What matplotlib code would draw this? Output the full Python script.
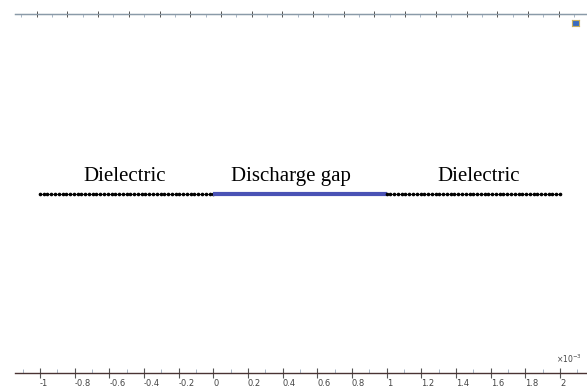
#!/usr/bin/env python3
"""plot.py - 1D discharge geometry (dielectric / gap / dielectric)"""

import matplotlib.pyplot as plt
import numpy as np
from matplotlib.ticker import MultipleLocator

# geometry boundaries, in units of 1e-3 m
seg_names = ["Dielectric", "Discharge gap", "Dielectric"]
seg_start = [-1.0, 0.0, 1.0]
seg_end = [0.0, 1.0, 2.0]
seg_is_gap = [False, True, False]
label_x = [-0.51, 0.45, 1.53]
mesh_pts = 47  # mesh vertices drawn on each dielectric

tick_vals = [-1, -0.8, -0.6, -0.4, -0.2, 0, 0.2, 0.4, 0.6, 0.8, 1, 1.2, 1.4, 1.6, 1.8, 2]
tick_text = ["-1", "-0.8", "-0.6", "-0.4", "-0.2", "0", "0.2", "0.4", "0.6", "0.8",
             "1", "1.2", "1.4", "1.6", "1.8", "2"]


def plot(fig):
    W, H = 587, 389
    x0, x1 = 15, 587
    y_bot, y_top = 373, 14
    ax = fig.add_axes([x0 / W, (H - y_bot) / H, (x1 - x0) / W, (y_bot - y_top) / H])
    ax.set_xlim(-1.144, 2.156)
    ax.set_ylim(-1, 1)

    for a, b, gap in zip(seg_start, seg_end, seg_is_gap):
        if gap:
            ax.plot([a, b], [0, 0], color="#4a52b5", lw=3, solid_capstyle="butt", zorder=3)
        else:
            xs = np.linspace(a, b, mesh_pts)
            ax.plot(xs, np.zeros_like(xs), color="#222222", lw=0.7, marker="o",
                    ms=1.6, mec="black", mfc="black", zorder=3)
    for name, lx in zip(seg_names, label_x):
        ax.text(lx, 0.095, name, ha="center", va="center",
                family="Liberation Serif", fontsize=15)

    for s in ["left", "right"]:
        ax.spines[s].set_visible(False)
    ax.spines["bottom"].set_color("#4a3333")
    ax.spines["bottom"].set_linewidth(1.0)
    ax.spines["top"].set_color("#8a9aa8")
    ax.spines["top"].set_linewidth(1.0)
    ax.set_yticks([])

    ax.set_xticks(tick_vals)
    ax.set_xticklabels(tick_text)
    ax.xaxis.set_minor_locator(MultipleLocator(0.1))
    ax.tick_params(axis="x", which="major", direction="inout", length=7, width=0.8,
                   color="#555555", labelsize=6, labelcolor="#444444", pad=1)
    ax.tick_params(axis="x", which="minor", direction="in", length=3, width=0.6,
                   color="#9aaabb")
    for lab in ax.get_xticklabels():
        lab.set_horizontalalignment("left")
    ax.text(1.98, -0.955, r"$\times10^{-3}$", fontsize=5.5, color="#444444",
            ha="left", va="bottom")

    # top scale line (no labels)
    top = ax.twiny()
    top.set_xlim((x0 - 36.7) / 30.7, (x1 - 36.7) / 30.7)
    top.xaxis.set_major_locator(MultipleLocator(1))
    top.xaxis.set_minor_locator(MultipleLocator(0.5))
    top.tick_params(axis="x", which="major", direction="inout", length=5, width=0.7,
                    color="#555555", labeltop=False)
    top.tick_params(axis="x", which="minor", direction="in", length=2.5, width=0.6,
                    color="#9aaabb")
    for s in ["left", "right", "bottom"]:
        top.spines[s].set_visible(False)
    top.spines["top"].set_color("#8a9aa8")

    # small toolbar icon at the top right
    icon = fig.add_axes([572 / W, (H - 26) / H, 7 / W, 6 / H])
    icon.set_facecolor("#3a6cc0")
    for s in icon.spines.values():
        s.set_color("#c8b060")
        s.set_linewidth(0.8)
    icon.set_xticks([])
    icon.set_yticks([])


def main():
    fig = plt.figure(figsize=(5.87, 3.89), dpi=100)
    plot(fig)
    fig.savefig("out.png", dpi=100)


if __name__ == "__main__":
    main()
